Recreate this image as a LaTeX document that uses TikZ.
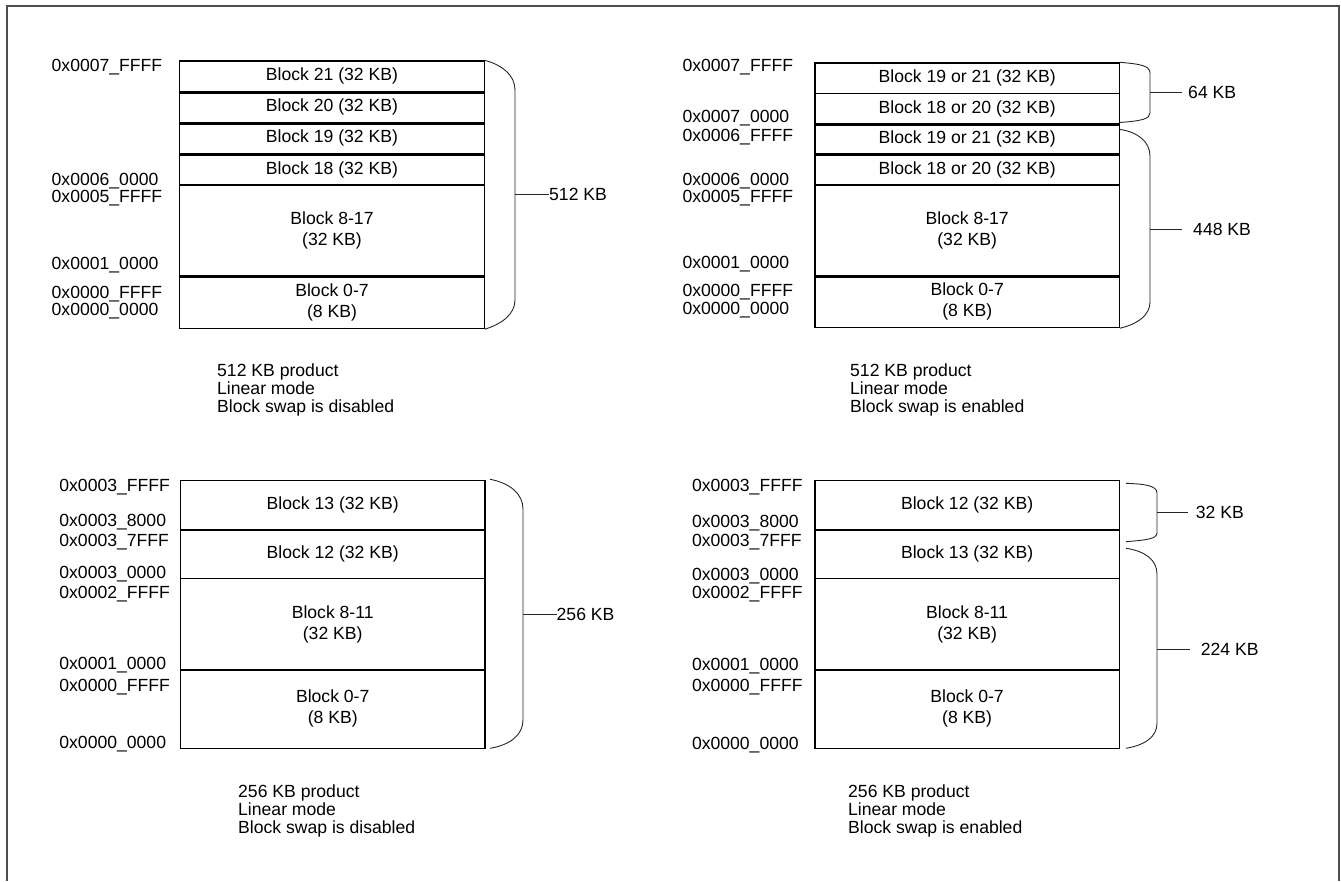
\documentclass[tikz,border=0pt]{standalone}
\usepackage{fontspec}
\setmainfont{Liberation Sans}
\usepackage{tikz}
\usetikzlibrary{positioning}
\definecolor{framegray}{HTML}{4D4D4D}
\newcommand{\lblfont}{\fontsize{17.6}{21}\selectfont}
\newcommand{\capfont}{\fontsize{17.6}{18}\selectfont}

\begin{document}
\begin{tikzpicture}[x=1pt, y=-1pt,
    blk/.style={draw, line width=1.3pt, inner sep=0pt, minimum width=304.5pt,
                minimum height=#1, align=center, font=\lblfont},
    divline/.style={line width=2.8pt},
    addr/.style={anchor=base west, inner sep=0pt, font=\lblfont},
    size/.style={anchor=west, inner sep=0pt, font=\lblfont},
    brace/.style={line width=0.9pt, black!85},
    caption/.style={anchor=north west, inner sep=0pt, align=left, font=\capfont}]
    \useasboundingbox (0,0) rectangle (1341,881);
    % Outer frame
    \draw[framegray, line width=1.6pt] (6.7,881) -- (6.7,6) -- (1339,6) -- (1339,881);

    % ---- 512 KB, block swap disabled ----
    \node[blk=30.7] (b21) at (332,76.35) {Block 21 (32 KB)};
    \node[blk=31]   (b20) at (332,107.2) {Block 20 (32 KB)};
    \node[blk=31.3] (b19) at (332,138.35) {Block 19 (32 KB)};
    \node[blk=31]   (b18) at (332,169.5) {Block 18 (32 KB)};
    \node[blk=90.7] (b8)  at (332,230.35) {Block 8-17\\(32 KB)};
    \node[blk=52.8] (b0)  at (332,302.1) {Block 0-7\\(8 KB)};
    \draw[divline] (b21.south west) -- (b21.south east);
    \draw[divline] (b20.south west) -- (b20.south east);
    \draw[divline] (b19.south west) -- (b19.south east);
    \draw[divline] (b8.south west) -- (b8.south east);
    % Addresses
    \node[addr] (a1) at (51.5,71) {0x0007\_FFFF};
    \node[addr] (a2) at (51.5,185.3) {0x0006\_0000};
    \node[addr] (a3) at (51.5,202.7) {0x0005\_FFFF};
    \node[addr] (a4) at (51.5,269.3) {0x0001\_0000};
    \node[addr] (a5) at (51.5,298.7) {0x0000\_FFFF};
    \node[addr] (a6) at (51.5,315.3) {0x0000\_0000};
    % Brace
    \draw[brace] (b21.north east) .. controls (502,65) and (515,75) .. (515,90)
        -- (515,300) .. controls (515,314) and (502,324) .. (b0.south east);
    \coordinate (t1) at (515,194);
    \node[size] (s1) at (549,194) {512 KB};
    \draw[brace] (t1) -- (s1.west);
    \node[caption] (cap1) at (217,364) {512 KB product\\Linear mode\\Block swap is disabled};

    % ---- 512 KB, block swap enabled ----
    \node[blk=30.3] (c21) at (967.2,78.15) {Block 19 or 21 (32 KB)};
    \node[blk=30.7] (c20) at (967.2,108.65) {Block 18 or 20 (32 KB)};
    \node[blk=30]   (c19) at (967.2,139) {Block 19 or 21 (32 KB)};
    \node[blk=31]   (c18) at (967.2,169.5) {Block 18 or 20 (32 KB)};
    \node[blk=90.7] (c8)  at (967.2,230.35) {Block 8-17\\(32 KB)};
    \node[blk=51.8] (c0)  at (967.2,301.6) {Block 0-7\\(8 KB)};
    \draw[divline] (c20.south west) -- (c20.south east);
    \draw[divline] (c19.south west) -- (c19.south east);
    \draw[divline] (c8.south west) -- (c8.south east);
    % Addresses
    \node[addr] (f1) at (682.3,71) {0x0007\_FFFF};
    \node[addr] (f2) at (682.3,122) {0x0007\_0000};
    \node[addr] (f3) at (682.3,141) {0x0006\_FFFF};
    \node[addr] (f4) at (682.3,185.3) {0x0006\_0000};
    \node[addr] (f5) at (682.3,202.7) {0x0005\_FFFF};
    \node[addr] (f6) at (682.3,268.7) {0x0001\_0000};
    \node[addr] (f7) at (682.3,296) {0x0000\_FFFF};
    \node[addr] (f8) at (682.3,314.7) {0x0000\_0000};
    % Braces
    \draw[brace] (c21.north east) .. controls (1141,64) and (1150,66) .. (1150,73)
        -- (1150,113) .. controls (1150,119) and (1141,121) .. (1119.4,122.5);
    \coordinate (t2) at (1150,92.7);
    \node[size] (s2) at (1188,92.7) {64 KB};
    \draw[brace] (t2) -- (1181.5,92.7);
    \draw[brace] (1119.4,129.3) .. controls (1138,132) and (1150,142) .. (1150,156)
        -- (1150,302) .. controls (1150,315) and (1138,324) .. (c0.south east);
    \coordinate (t3) at (1150,229);
    \node[size] (s3) at (1193,229) {448 KB};
    \draw[brace] (t3) -- (1182,229);
    \node[caption] (cap2) at (850,364) {512 KB product\\Linear mode\\Block swap is enabled};

    % ---- 256 KB, block swap disabled ----
    \node[blk=49.3] (d13) at (332.7,505.35) {Block 13 (32 KB)};
    \node[blk=48.7] (d12) at (332.7,554.35) {Block 12 (32 KB)};
    \node[blk=90.6] (d8)  at (332.7,624) {Block 8-11\\(32 KB)};
    \node[blk=79]   (d0)  at (332.7,708.8) {Block 0-7\\(8 KB)};
    \draw[divline] (d8.south west) -- (d8.south east);
    % Addresses
    \node[addr] (g1) at (59.2,491) {0x0003\_FFFF};
    \node[addr] (g2) at (59.2,526) {0x0003\_8000};
    \node[addr] (g3) at (59.2,546) {0x0003\_7FFF};
    \node[addr] (g4) at (59.2,578.7) {0x0003\_0000};
    \node[addr] (g5) at (59.2,598.7) {0x0002\_FFFF};
    \node[addr] (g6) at (59.2,669.3) {0x0001\_0000};
    \node[addr] (g7) at (59.2,691.3) {0x0000\_FFFF};
    \node[addr] (g8) at (59.2,748.7) {0x0000\_0000};
    % Brace
    \draw[brace] (490,479.3) .. controls (510,483) and (523,494) .. (523,509)
        -- (523,720) .. controls (523,735) and (510,745) .. (490,748.3);
    \coordinate (t4) at (523,614);
    \node[size] (s4) at (556.5,614) {256 KB};
    \draw[brace] (t4) -- (s4.west);
    \node[caption] (cap3) at (238,785) {256 KB product\\Linear mode\\Block swap is disabled};

    % ---- 256 KB, block swap enabled ----
    \node[blk=49.3] (e12) at (967.1,505.35) {Block 12 (32 KB)};
    \node[blk=48.7] (e13) at (967.1,554.35) {Block 13 (32 KB)};
    \node[blk=90.6] (e8)  at (967.1,624) {Block 8-11\\(32 KB)};
    \node[blk=79]   (e0)  at (967.1,708.8) {Block 0-7\\(8 KB)};
    \draw[divline] (e8.south west) -- (e8.south east);
    % Addresses
    \node[addr] (h1) at (691.8,491) {0x0003\_FFFF};
    \node[addr] (h2) at (691.8,527) {0x0003\_8000};
    \node[addr] (h3) at (691.8,546.7) {0x0003\_7FFF};
    \node[addr] (h4) at (691.8,580) {0x0003\_0000};
    \node[addr] (h5) at (691.8,598.7) {0x0002\_FFFF};
    \node[addr] (h6) at (691.8,670) {0x0001\_0000};
    \node[addr] (h7) at (691.8,691.3) {0x0000\_FFFF};
    \node[addr] (h8) at (691.8,749.3) {0x0000\_0000};
    % Braces
    \draw[brace] (1126,483.3) .. controls (1146,484) and (1157,486) .. (1157,493)
        -- (1157,533) .. controls (1157,539) and (1146,540) .. (1126,541.7);
    \coordinate (t5) at (1157,512.3);
    \node[size] (s5) at (1195.7,512.3) {32 KB};
    \draw[brace] (t5) -- (1188,512.3);
    \draw[brace] (1126,548.3) .. controls (1145,551) and (1157,560) .. (1157,574)
        -- (1157,723) .. controls (1157,737) and (1145,745) .. (1126,748.3);
    \coordinate (t6) at (1157,649);
    \node[size] (s6) at (1200.6,649) {224 KB};
    \draw[brace] (t6) -- (1190,649);
    \node[caption] (cap4) at (848,785) {256 KB product\\Linear mode\\Block swap is enabled};
\end{tikzpicture}
\end{document}
